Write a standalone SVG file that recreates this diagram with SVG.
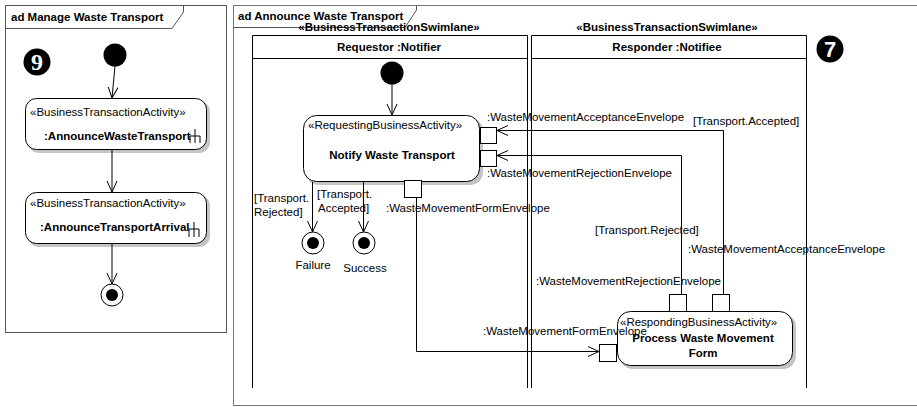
<svg xmlns="http://www.w3.org/2000/svg" width="917" height="407" viewBox="0 0 917 407">
<defs>
<style>
text{font-family:"Liberation Sans",Arial,sans-serif;font-size:11.5px;fill:#000}
.b{font-weight:bold}
.m{text-anchor:middle}
.frame{fill:none;stroke:#555;stroke-width:1}
.lane{fill:none;stroke:#000;stroke-width:1}
.act{fill:#fff;stroke:#000;stroke-width:1}
.shadow{fill:#c4c4c4;stroke:none}
.pin{fill:#fff;stroke:#000;stroke-width:1}
.flow{fill:none;stroke:#000;stroke-width:1}
.mk{fill:#000}
.mkt{font-family:"Liberation Sans",Arial,sans-serif;font-weight:bold;font-size:22px;fill:#fff;text-anchor:middle}
</style>
<marker id="arr" viewBox="0 0 12 12" refX="11" refY="6" markerWidth="12" markerHeight="12" markerUnits="userSpaceOnUse" orient="auto">
<path d="M0,1 L11,6 L0,11" fill="none" stroke="#000" stroke-width="1"/>
</marker>
</defs>

<!-- Left frame -->
<g id="frame-manage">
<rect class="frame" x="5.5" y="5.5" width="221" height="327" fill="#fff"/>
<path class="frame" d="M5.5,28.5 H172 L183.5,12 V5.5"/>
<text class="b" x="11" y="21">ad Manage Waste Transport</text>
</g>

<g id="marker9">
<circle class="mk" cx="37" cy="62" r="13.5"/>
<text class="mkt" style="font-family:'Liberation Serif',serif;font-size:24px" x="37" y="70">9</text>
</g>

<g id="m-initial"><circle cx="115" cy="55" r="11.5" fill="#000"/></g>

<g id="m-act1">
<rect class="shadow" x="28" y="101" width="182" height="52" rx="11"/>
<rect class="act" x="25.5" y="98.5" width="181" height="51" rx="11"/>
<text x="30" y="116">«BusinessTransactionActivity»</text>
<text class="b" x="44" y="140">:AnnounceWasteTransport</text>
<path class="flow" d="M195,129 V143 M190,136 H200 M190,136 V143 M200,136 V143"/>
</g>

<g id="m-act2">
<rect class="shadow" x="28" y="195" width="182" height="52" rx="11"/>
<rect class="act" x="25.5" y="192.5" width="181" height="51" rx="11"/>
<text x="30" y="207">«BusinessTransactionActivity»</text>
<text class="b" x="40" y="231">:AnnounceTransportArrival</text>
<path class="flow" d="M194,222 V237 M189,229 H199 M189,229 V237 M199,229 V237"/>
</g>

<g id="m-final">
<circle cx="112" cy="295" r="11" fill="#fff" stroke="#000"/>
<circle cx="112" cy="295" r="6" fill="#000"/>
</g>

<!-- Right frame -->
<g id="frame-announce">
<path class="frame" d="M917,5.5 H233.5 V405.5 H917" fill="#fff" style="stroke:#777"/>
<path class="frame" d="M233.5,27.5 H405 L416.5,10 V5.5"/>
<text class="b" x="238" y="20">ad Announce Waste Transport</text>
</g>

<g id="lane-requestor">
<path class="lane" d="M252.5,388 V35.5 H527.5 V388 M252.5,58.5 H527.5"/>
<text class="b m" x="389" y="31">«BusinessTransactionSwimlane»</text>
<text class="b m" x="389" y="51">Requestor :Notifier</text>
</g>

<g id="lane-responder">
<path class="lane" d="M531.5,388 V35.5 H806.5 V388 M531.5,58.5 H806.5"/>
<text class="b m" x="667" y="31">«BusinessTransactionSwimlane»</text>
<text class="b m" x="667" y="51">Responder :Notifiee</text>
</g>

<g id="marker7">
<circle class="mk" cx="830" cy="49" r="13.5"/>
<text class="mkt" x="830" y="57">7</text>
</g>

<g id="r-initial"><circle cx="392" cy="73" r="11.5" fill="#000"/></g>

<g id="notify">
<rect class="shadow" x="306" y="118" width="177" height="67" rx="13"/>
<rect class="act" x="303.5" y="115.5" width="176" height="66" rx="13"/>
<text x="308" y="129">«RequestingBusinessActivity»</text>
<text class="b m" x="392" y="159">Notify Waste Transport</text>
<rect class="pin" x="480.5" y="127.5" width="16" height="16"/>
<rect class="pin" x="480.5" y="150.5" width="16" height="16"/>
<rect class="pin" x="404.5" y="180.5" width="17" height="17"/>
</g>

<g id="failure">
<circle cx="313" cy="243" r="11" fill="#fff" stroke="#000"/>
<circle cx="313" cy="243" r="6" fill="#000"/>
<text class="m" x="313" y="269">Failure</text>
</g>
<g id="success">
<circle cx="364" cy="243" r="11" fill="#fff" stroke="#000"/>
<circle cx="364" cy="243" r="6" fill="#000"/>
<text class="m" x="365" y="272">Success</text>
</g>

<g id="process">
<rect class="shadow" x="620" y="314" width="176" height="55" rx="13"/>
<rect class="act" x="617.5" y="311.5" width="175" height="54" rx="13"/>
<text x="620" y="326">«RespondingBusinessActivity»</text>
<text class="b m" x="703" y="342">Process Waste Movement</text>
<text class="b m" x="703" y="357">Form</text>
<rect class="pin" x="599.5" y="344.5" width="17" height="17"/>
<rect class="pin" x="669.5" y="294.5" width="17" height="17"/>
<rect class="pin" x="712.5" y="294.5" width="17" height="17"/>
</g>

<g id="connectors">
<path class="flow" d="M115,66 L112,98" marker-end="url(#arr)"/>
<path class="flow" d="M112,150 V192" marker-end="url(#arr)"/>
<path class="flow" d="M112,244 V284" marker-end="url(#arr)"/>
<path class="flow" d="M392,84 V115" marker-end="url(#arr)"/>
<path class="flow" d="M312.5,182 V232" marker-end="url(#arr)"/>
<path class="flow" d="M363.5,182 V232" marker-end="url(#arr)"/>
<path class="flow" d="M416.5,198 V351.5 H599" marker-end="url(#arr)"/>
<path class="flow" d="M723.5,294 V130.5 H497" marker-end="url(#arr)"/>
<path class="flow" d="M681.5,294 V155.5 H497" marker-end="url(#arr)"/>
</g>

<g id="labels">
<text x="487" y="121">:WasteMovementAcceptanceEnvelope</text>
<text x="693" y="125">[Transport.Accepted]</text>
<text x="487" y="177">:WasteMovementRejectionEnvelope</text>
<text x="386" y="212">:WasteMovementFormEnvelope</text>
<text x="254" y="202">[Transport.</text>
<text x="254" y="216">Rejected]</text>
<text x="317" y="198">[Transport.</text>
<text x="318" y="212">Accepted]</text>
<text x="595" y="234">[Transport.Rejected]</text>
<text x="688" y="253">:WasteMovementAcceptanceEnvelope</text>
<text x="536" y="285">:WasteMovementRejectionEnvelope</text>
<text x="483" y="335">:WasteMovementFormEnvelope</text>
</g>
</svg>
